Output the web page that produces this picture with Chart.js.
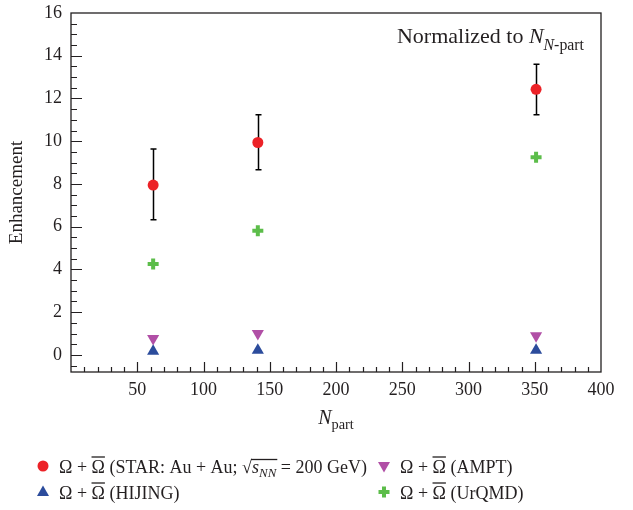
<!DOCTYPE html>
<html>
<head>
<meta charset="utf-8">
<script src="https://cdn.jsdelivr.net/npm/chart.js@4/dist/chart.umd.min.js"></script>
<style>
  body { margin: 0; background: #fff; }
  canvas { display: block; }
</style>
</head>
<body>
<canvas id="c" width="633" height="510"></canvas>
<script>
// values
const nPart = [62, 141, 351];
const star = [7.95, 9.94, 12.43];
const starHi = [9.64, 11.24, 13.6];
const starLo = [6.32, 8.66, 11.24];
const hijing = [0.17, 0.22, 0.22];
const ampt = [0.77, 1.0, 0.9];
const urqmd = [4.25, 5.81, 9.25];
const xTicks = [50, 100, 150, 200, 250, 300, 350, 400];
const yTicks = [0, 2, 4, 6, 8, 10, 12, 14, 16];

const SERIF = "'Liberation Serif', 'DejaVu Serif', serif";
const INK = '#231f20';
const RED = '#ec2227', BLUE = '#2c4c9c', MAG = '#b14fa6', GREEN = '#5cbd4a';

const pts = ys => nPart.map((x, i) => ({ x, y: ys[i] }));

// frame, inward ticks (major + minor), error bars
const frame = {
  id: 'frame',
  beforeDatasetsDraw(chart) {
    const { ctx, chartArea: a, scales: { x, y } } = chart;
    ctx.save();
    ctx.strokeStyle = INK; ctx.lineWidth = 1.3;
    ctx.strokeRect(a.left, a.top, a.right - a.left, a.bottom - a.top);
    ctx.lineWidth = 1.2;
    ctx.beginPath();
    for (let v = 10; v < 400; v += 10) {
      const px = Math.round(x.getPixelForValue(v)) + 0.5;
      ctx.moveTo(px, a.bottom); ctx.lineTo(px, a.bottom - (v % 50 === 0 ? 10 : 5));
    }
    for (let v = -0.5; v < 16; v += 0.5) {
      const py = Math.round(y.getPixelForValue(v)) + 0.5;
      ctx.moveTo(a.left, py); ctx.lineTo(a.left + (v % 2 === 0 ? 11 : 6), py);
    }
    ctx.stroke();
    // error bars on STAR
    ctx.strokeStyle = '#000'; ctx.lineWidth = 1.5;
    ctx.beginPath();
    nPart.forEach((n, i) => {
      const px = Math.round(x.getPixelForValue(n)) + 0.5;
      const hi = y.getPixelForValue(starHi[i]), lo = y.getPixelForValue(starLo[i]);
      ctx.moveTo(px, hi); ctx.lineTo(px, lo);
      ctx.moveTo(px - 3, hi); ctx.lineTo(px + 3, hi);
      ctx.moveTo(px - 3, lo); ctx.lineTo(px + 3, lo);
    });
    ctx.stroke();
    ctx.restore();
  }
};

// text runs: {t, it, sub, over}
function runs(ctx, x, y, list, size, drop = 0.22) {
  list.forEach(r => {
    const fs = r.sub ? size * 0.72 : size;
    ctx.font = (r.it ? 'italic ' : '') + fs + 'px ' + SERIF;
    const yy = r.sub ? y + size * drop : y;
    ctx.fillText(r.t, x, yy);
    const w = ctx.measureText(r.t).width;
    if (r.over) {
      ctx.beginPath();
      ctx.moveTo(x + r.over[0], y - r.over[2]); ctx.lineTo(x + w + r.over[1], y - r.over[2]);
      ctx.stroke();
    }
    x += w;
  });
  return x;
}
function width(ctx, list, size) {
  let w = 0;
  list.forEach(r => {
    ctx.font = (r.it ? 'italic ' : '') + (r.sub ? size * 0.72 : size) + 'px ' + SERIF;
    w += ctx.measureText(r.t).width;
  });
  return w;
}

function marker(ctx, kind, cx, cy) {
  ctx.beginPath();
  if (kind === 'circle') { ctx.fillStyle = RED; ctx.arc(cx, cy, 5.5, 0, Math.PI * 2); ctx.fill(); }
  if (kind === 'up') { ctx.fillStyle = BLUE; ctx.moveTo(cx, cy - 6.5); ctx.lineTo(cx + 6, cy + 4); ctx.lineTo(cx - 6, cy + 4); ctx.fill(); }
  if (kind === 'down') { ctx.fillStyle = MAG; ctx.moveTo(cx, cy + 6.5); ctx.lineTo(cx + 6, cy - 4); ctx.lineTo(cx - 6, cy - 4); ctx.fill(); }
  if (kind === 'plus') { ctx.fillStyle = GREEN; ctx.fillRect(cx - 5.5, cy - 2, 11, 4); ctx.fillRect(cx - 2, cy - 5.5, 4, 11); }
}

const annot = {
  id: 'annot',
  afterDraw(chart) {
    const { ctx, chartArea: a } = chart;
    ctx.save();
    ctx.fillStyle = INK; ctx.strokeStyle = INK; ctx.lineWidth = 1.3;
    ctx.textBaseline = 'alphabetic';
    // inside label
    const norm = [{ t: 'Normalized to ' }, { t: 'N', it: true }, { t: 'N', it: true, sub: true }, { t: '-part', sub: true }];
    runs(ctx, 584 - width(ctx, norm, 22), 43, norm, 22, 0.3);
    // x title
    const xt = [{ t: 'N', it: true }, { t: 'part', sub: true }];
    runs(ctx, (a.left + a.right) / 2 - width(ctx, xt, 20) / 2, 424, xt, 20, 0.25);
    // legend
    const om = [{ t: 'Ω + ' }, { t: 'Ω', over: [0, 0, 16] }];
    const items = [
      ['circle', 43, 466, 59, 473, [...om, { t: ' (STAR: Au + Au; ' }, { t: '√' }, { t: 's', it: true, over: [-1, 0, 13.5] }, { t: 'NN', it: true, sub: true, over: [0, 1, 13.5] }, { t: ' = 200 GeV)' }]],
      ['up', 43, 492, 59, 499, [...om, { t: ' (HIJING)' }]],
      ['down', 384, 466, 400, 473, [...om, { t: ' (AMPT)' }]],
      ['plus', 384, 492, 400, 499, [...om, { t: ' (UrQMD)' }]]
    ];
    items.forEach(([k, mx, my, tx, ty, list]) => {
      marker(ctx, k, mx, my);
      ctx.fillStyle = INK;
      runs(ctx, tx, ty, list, 18);
    });
    ctx.restore();
  }
};

new Chart(document.getElementById('c'), {
  type: 'scatter',
  data: {
    datasets: [
      { label: 'STAR', data: pts(star), pointStyle: 'circle', pointRadius: 5.5, backgroundColor: RED, borderColor: RED, borderWidth: 0 },
      { label: 'HIJING', data: pts(hijing), pointStyle: 'triangle', pointRadius: 7, backgroundColor: BLUE, borderColor: BLUE, borderWidth: 0 },
      { label: 'AMPT', data: pts(ampt), pointStyle: 'triangle', rotation: 180, pointRadius: 7, backgroundColor: MAG, borderColor: MAG, borderWidth: 0 },
      { label: 'UrQMD', data: pts(urqmd), pointStyle: 'cross', pointRadius: 5.5, backgroundColor: GREEN, borderColor: GREEN, borderWidth: 4 }
    ]
  },
  options: {
    responsive: false,
    animation: false,
    devicePixelRatio: 1,
    layout: { padding: { top: 13, right: 32, left: 0, bottom: 0 } },
    plugins: { legend: { display: false }, tooltip: { enabled: false } },
    scales: {
      x: {
        type: 'linear', min: 0, max: 400,
        grid: { display: false, drawTicks: false }, border: { display: false },
        afterBuildTicks: s => { s.ticks = xTicks.map(v => ({ value: v })); },
        afterFit: s => { s.height = 138; s.paddingLeft = 0; s.paddingRight = 0; },
        ticks: { font: { family: SERIF, size: 18 }, color: INK, padding: 7, maxRotation: 0, autoSkip: false }
      },
      y: {
        type: 'linear', min: -0.8, max: 16,
        grid: { display: false, drawTicks: false }, border: { display: false },
        afterBuildTicks: s => { s.ticks = yTicks.map(v => ({ value: v })); },
        afterFit: s => { s.width = 71; s.paddingTop = 0; s.paddingBottom = 0; },
        ticks: { font: { family: SERIF, size: 18 }, color: INK, padding: 9, autoSkip: false },
        title: { display: true, text: 'Enhancement', font: { family: SERIF, size: 19 }, color: INK, padding: 6 }
      }
    }
  },
  plugins: [frame, annot]
});
</script>
</body>
</html>
